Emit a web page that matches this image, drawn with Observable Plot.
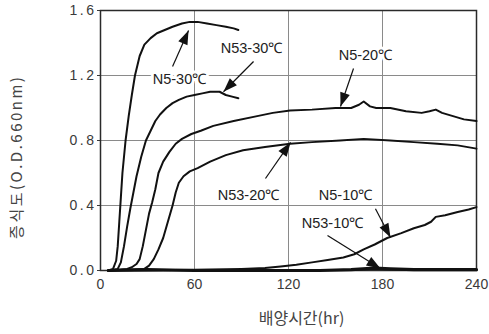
<!DOCTYPE html>
<html>
<head>
<meta charset="utf-8">
<script src="https://cdn.jsdelivr.net/npm/d3@7"></script>
<script src="https://cdn.jsdelivr.net/npm/@observablehq/plot@0.6"></script>
<style>
  html, body { margin: 0; padding: 0; background: #fff; }
  svg g[aria-label^="y-axis"] text { letter-spacing: 2.5px; }
</style>
</head>
<body>
<div id="chart"></div>
<script>
// ---- data (hours, O.D.660nm) ----
const xTicks = [0, 60, 120, 180, 240];
const yTicks = [0.0, 0.4, 0.8, 1.2, 1.6];

const n5_30 = [[5,0],[8,0.01],[10,0.06],[11,0.15],[12,0.3],[13,0.45],[14,0.6],[16,0.8],[18,0.95],[20,1.08],[22,1.2],[25,1.32],[28,1.39],[32,1.43],[36,1.46],[41,1.48],[46,1.5],[52,1.52],[57,1.53],[62,1.53],[68,1.52],[74,1.51],[80,1.5],[85,1.49],[88,1.48]];
const n53_30 = [[5,0],[11,0.01],[13,0.05],[15,0.15],[17,0.27],[19,0.38],[21,0.48],[23,0.58],[26,0.7],[29,0.8],[32,0.86],[35,0.92],[38,0.96],[42,1.0],[46,1.03],[50,1.05],[55,1.07],[60,1.08],[65,1.09],[70,1.1],[76,1.1],[80,1.08],[84,1.07],[88,1.06]];
const n5_20 = [[5,0],[17,0.01],[20,0.02],[23,0.04],[25,0.07],[27,0.15],[29,0.25],[31,0.35],[33,0.42],[35,0.5],[37,0.6],[40,0.67],[44,0.73],[48,0.78],[52,0.81],[58,0.84],[64,0.86],[72,0.89],[85,0.92],[100,0.95],[110,0.97],[121,0.985],[135,0.99],[150,1.0],[160,1.0],[165,1.02],[168,1.04],[172,1.01],[176,1.0],[185,1.0],[195,0.98],[205,0.97],[210,0.98],[214,0.99],[218,0.97],[225,0.95],[232,0.93],[240,0.92]];
const n53_20 = [[5,0],[28,0.01],[31,0.03],[34,0.07],[37,0.13],[40,0.2],[43,0.3],[46,0.4],[48,0.48],[50,0.54],[53,0.58],[57,0.61],[62,0.63],[70,0.67],[80,0.71],[91,0.74],[105,0.76],[121,0.78],[135,0.79],[153,0.8],[168,0.81],[185,0.8],[200,0.79],[215,0.78],[228,0.77],[240,0.75]];
const n5_10 = [[5,0],[20,0.0],[60,0.005],[90,0.01],[105,0.015],[115,0.025],[125,0.035],[135,0.05],[145,0.065],[155,0.08],[162,0.1],[168,0.13],[175,0.16],[183,0.2],[192,0.23],[200,0.26],[207,0.28],[211,0.3],[214,0.33],[220,0.34],[228,0.36],[235,0.375],[240,0.39]];
const n53_10 = [[5,0],[30,0.005],[60,0.0],[100,0.0],[140,0.0],[160,0.005],[175,0.015],[185,0.01],[200,0.005],[240,0.005]];

// annotation labels and arrows (data coordinates)
const labelText = ["N5-30℃", "N53-30℃", "N5-20℃", "N53-20℃", "N5-10℃", "N53-10℃"];
const labelX = [50.4, 96.4, 169.1, 94.5, 156.4, 148.1];
const labelY = [1.175, 1.366, 1.323, 0.46, 0.46, 0.29];
const arrowX1 = [46, 97.7, 161.5, 105.3, 175.5, 144.9];
const arrowY1 = [1.255, 1.286, 1.243, 0.566, 0.38, 0.215];
const arrowX2 = [56.2, 78.5, 153.2, 121.3, 185.1, 178.7];
const arrowY2 = [1.477, 1.10, 1.009, 0.788, 0.203, 0.012];

const xLabel = "배양시간(hr)";
const yLabel = "증식도(O.D.660nm)";

// ---- build tables ----
const seriesList = [["N5-30", n5_30], ["N53-30", n53_30], ["N5-20", n5_20], ["N53-20", n53_20], ["N5-10", n5_10]];
const lineData = seriesList.flatMap(([name, pts]) => pts.map(([h, v]) => ({series: name, h, v})));
const baseData = n53_10.map(([h, v]) => ({h, v}));
const labels = labelText.map((t, i) => ({t, x: labelX[i], y: labelY[i]}));
const arrows = arrowX1.map((_, i) => ({x1: arrowX1[i], y1: arrowY1[i], x2: arrowX2[i], y2: arrowY2[i]}));

const chart = Plot.plot({
  width: 489,
  height: 334,
  marginLeft: 100,
  marginRight: 13,
  marginTop: 10,
  marginBottom: 64,
  style: {fontFamily: "'Liberation Sans', Arial, sans-serif", fontSize: "14px", color: "#3a3a3a", background: "#fff"},
  x: {domain: [0, 240], ticks: xTicks, tickSize: 0, tickPadding: 9, label: null},
  y: {domain: [0, 1.6], ticks: yTicks, tickSize: 3, tickPadding: 1, tickFormat: d => d.toFixed(1), label: null},
  marks: [
    Plot.ruleX(xTicks, {stroke: "#8a8a8a", strokeWidth: 1}),
    Plot.ruleY(yTicks, {stroke: "#8a8a8a", strokeWidth: 1}),
    Plot.frame({stroke: "#2a2a2a", strokeWidth: 1.5}),
    Plot.line(baseData, {x: "h", y: "v", stroke: "#111", strokeWidth: 3.2}),
    Plot.line(lineData, {x: "h", y: "v", z: "series", stroke: "#111", strokeWidth: 2, curve: "linear"}),
    Plot.link(arrows, {x1: "x1", y1: "y1", x2: "x2", y2: "y2", stroke: "#111", strokeWidth: 1.2, markerEnd: "arrow"}),
    Plot.text(labels, {x: "x", y: "y", text: "t", fill: "#222", stroke: "white", strokeWidth: 6, fontSize: 14.5, fontFamily: "'Liberation Sans', Arial, sans-serif"}),
    Plot.text([xLabel], {frameAnchor: "bottom", dy: 53, dx: 13, text: d => d, fill: "#444", fontSize: 16, fontFamily: "'Noto Sans CJK KR', sans-serif"}),
    Plot.text([yLabel], {x: () => 0, y: () => 0.70, dx: -83, rotate: -90, textAnchor: "middle", text: d => d, fill: "#444", fontSize: 15, fontFamily: "'Noto Sans CJK KR', sans-serif"})
  ]
});

const svg = chart.tagName.toLowerCase() === "svg" ? chart : chart.querySelector("svg");
// filled triangular arrow heads
svg.querySelectorAll("marker").forEach(m => {
  m.setAttribute("viewBox", "-15 -6 16 12");
  m.setAttribute("markerWidth", "16");
  m.setAttribute("markerHeight", "12");
  m.setAttribute("markerUnits", "userSpaceOnUse");
  m.setAttribute("refX", "0");
  m.setAttribute("refY", "0");
  m.setAttribute("orient", "auto");
  m.innerHTML = "";
  const p = document.createElementNS("http://www.w3.org/2000/svg", "path");
  p.setAttribute("d", "M-14,-5L0,0L-14,5Z");
  p.setAttribute("fill", "#111");
  p.setAttribute("stroke", "none");
  m.appendChild(p);
});
// letter spacing for y label
svg.querySelectorAll("text").forEach(t => {
  if (t.textContent === yLabel) t.style.letterSpacing = "2.5px";
});
document.getElementById("chart").appendChild(chart);
</script>
</body>
</html>
